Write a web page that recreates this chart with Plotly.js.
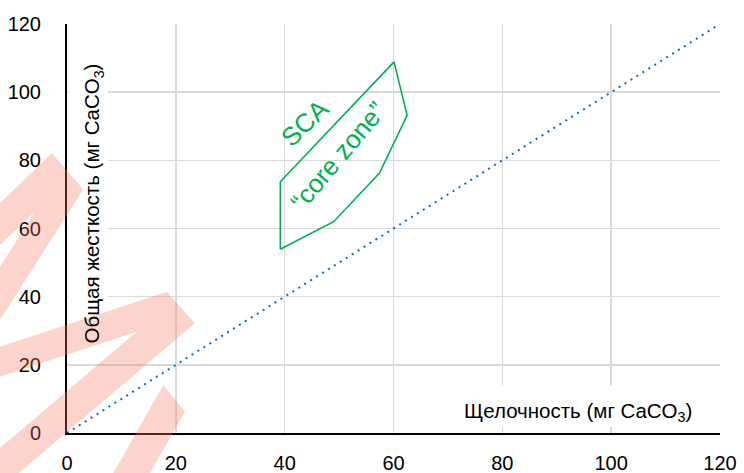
<!DOCTYPE html>
<html>
<head>
<meta charset="utf-8">
<script src="https://cdn.plot.ly/plotly-3.0.1.min.js"></script>
<style>html,body{margin:0;padding:0;background:#fff;}#chart{width:744px;height:473px;}</style>
</head>
<body>
<div id="chart"></div>
<script>
// Data
const tickVals = [0, 20, 40, 60, 80, 100, 120];
const diagX = [0, 120];
const diagY = [0, 120];
const coreX = [39.2, 39.2, 60.1, 62.5, 57.4, 49.0, 39.2];
const coreY = [53.9, 73.7, 108.9, 93.2, 76.2, 62.0, 53.9];
const xTitle = 'Щелочность (мг CaCO<sub>3</sub>)';
const yTitle = 'Общая жесткость (мг CaCO<sub>3</sub>)';
const labelSCA = 'SCA';
const labelCore = '“core zone”';

const FONT = 'Liberation Sans, Arial, sans-serif';
const GREEN = '#00b050';

// decorative watermark polygons (paper coords)
function poly(pts){return 'M' + pts.map(p => p[0].toFixed(4) + ',' + p[1].toFixed(4)).join(' L') + ' Z';}
const wmA = [[-0.1026,0.5623],[-0.0234,0.6839],[0.0250,0.5958],[-0.1026,0.2763],[-0.1026,0.4066],[-0.0490,0.5411],[-0.1026,0.4597]];
const wmB = [[-0.1026,0.2110],[0.1527,0.3455],[0.1960,0.2682],[-0.1026,-0.1369],[-0.1026,-0.0364],[0.1067,0.2477],[-0.1026,0.1377]];
const wmC = [[0.1475,0.1174],[0.1807,0.0521],[0.1210,-0.1149],[0.0648,-0.1149]];
const wmFill = 'rgba(247,120,95,0.32)';

const traces = [
  {x: diagX, y: diagY, type: 'scatter', mode: 'lines',
   line: {color: '#0070c0', width: 2, dash: '2px,5px'}, hoverinfo: 'skip'},
  {x: coreX, y: coreY, type: 'scatter', mode: 'lines',
   line: {color: GREEN, width: 1.6}, hoverinfo: 'skip'}
];

const axisCommon = {
  range: [0, 120], tickvals: tickVals, ticktext: tickVals.map(String),
  showgrid: true, gridcolor: '#d9d9d9', gridwidth: 1.5,
  showline: true, linecolor: '#000', linewidth: 2, zeroline: false,
  ticks: '', tickfont: {family: FONT, size: 20, color: '#000'},
  automargin: false, fixedrange: true
};

const layout = {
  width: 744, height: 473,
  margin: {l: 67, r: 24, t: 24, b: 40},
  paper_bgcolor: '#fff', plot_bgcolor: '#fff',
  showlegend: false,
  font: {family: FONT, color: '#000'},
  xaxis: Object.assign({}, axisCommon, {ticklabelstandoff: 11}),
  yaxis: Object.assign({}, axisCommon, {ticklabelstandoff: 20}),
  shapes: [
    {type: 'rect', xref: 'paper', yref: 'paper', x0: 0.0023, x1: 0.0628, y0: 0.198, y1: 0.924,
     fillcolor: '#fff', line: {width: 0}, layer: 'above'},
    {type: 'rect', xref: 'paper', yref: 'paper', x0: 0.5896, x1: 0.974, y0: 0.0147, y1: 0.117,
     fillcolor: '#fff', line: {width: 0}, layer: 'above'},
    {type: 'path', xref: 'paper', yref: 'paper', path: poly(wmA), fillcolor: wmFill, line: {width: 0}, layer: 'above'},
    {type: 'path', xref: 'paper', yref: 'paper', path: poly(wmB), fillcolor: wmFill, line: {width: 0}, layer: 'above'},
    {type: 'path', xref: 'paper', yref: 'paper', path: poly(wmC), fillcolor: wmFill, line: {width: 0}, layer: 'above'}
  ],
  annotations: [
    {xref: 'paper', yref: 'paper', x: 0.7825, y: 0.052, text: xTitle, showarrow: false,
     font: {family: FONT, size: 20.5, color: '#000'}, xanchor: 'center', yanchor: 'middle'},
    {xref: 'paper', yref: 'paper', x: 0.0398, y: 0.561, text: yTitle, showarrow: false, textangle: -90,
     font: {family: FONT, size: 20.5, color: '#000'}, xanchor: 'center', yanchor: 'middle'},
    {xref: 'x', yref: 'y', x: 43.7, y: 90.9, text: labelSCA, showarrow: false, textangle: -44,
     font: {family: FONT, size: 26, color: GREEN}},
    {xref: 'x', yref: 'y', x: 49.8, y: 81.4, text: labelCore, showarrow: false, textangle: -50,
     font: {family: FONT, size: 26, color: GREEN}}
  ]
};

Plotly.newPlot('chart', traces, layout, {displayModeBar: false, staticPlot: true});
</script>
</body>
</html>
